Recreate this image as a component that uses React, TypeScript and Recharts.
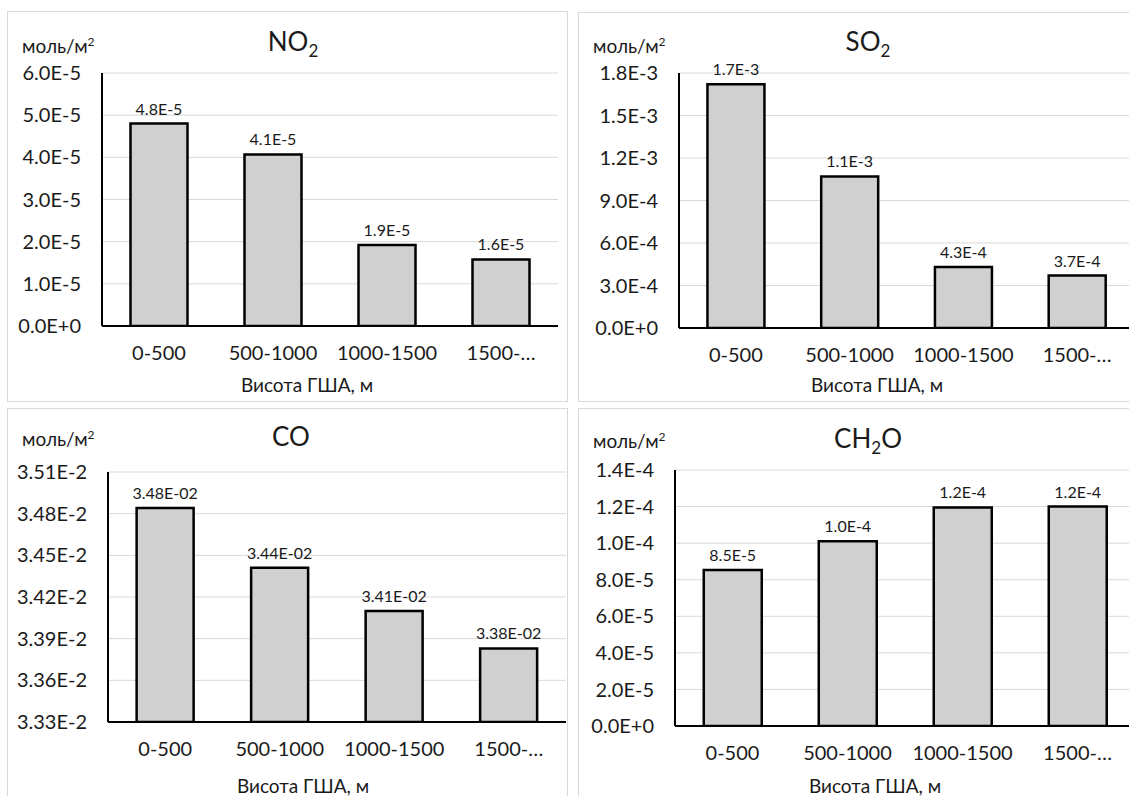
import React from 'react';
import { BarChart, Bar, XAxis, YAxis, CartesianGrid, LabelList } from 'recharts';

const categories = ['0-500', '500-1000', '1000-1500', '1500-…'];

const no2Values = [4.8e-5, 4.07e-5, 1.92e-5, 1.58e-5];
const so2Values = [1.72e-3, 1.07e-3, 4.3e-4, 3.7e-4];
const coValues = [3.484e-2, 3.441e-2, 3.41e-2, 3.383e-2];
const ch2oValues = [8.53e-5, 1.01e-4, 1.195e-4, 1.2e-4];

const no2Ticks = [0, 1e-5, 2e-5, 3e-5, 4e-5, 5e-5, 6e-5];
const so2Ticks = [0, 3e-4, 6e-4, 9e-4, 1.2e-3, 1.5e-3, 1.8e-3];
const coTicks = [0.0333, 0.0336, 0.0339, 0.0342, 0.0345, 0.0348, 0.0351];
const ch2oTicks = [0, 2e-5, 4e-5, 6e-5, 8e-5, 1e-4, 1.2e-4, 1.4e-4];

const FONT = 'Lato, "Open Sans", sans-serif';
const TEXT = '#1a1a1a';

const exp1 = (v: number) => Number(v).toExponential(1).toUpperCase();
const exp2 = (v: number) => Number(v).toExponential(2).toUpperCase();
// Excel style label: 3.48E-02
const exp2Pad = (v: number) => {
  const [m, e] = Number(v).toExponential(2).split('e');
  const sign = e[0];
  const digits = e.slice(1).padStart(2, '0');
  return `${m}E${sign}${digits}`;
};

const toRows = (values: number[]) => categories.map((name, i) => ({ name, value: values[i] }));

interface PanelProps {
  left: number;
  top: number;
  width: number;
  height: number;
  margin: { top: number; right: number; bottom: number; left: number };
  yWidth: number;
  values: number[];
  ticks: number[];
  tickFmt: (v: number) => string;
  labelFmt: (v: number) => string;
  title: React.ReactNode;
  titleX: number;
  titleY: number;
  unitY: number;
  xTitleX: number;
  xTitleY: number;
}

const Panel: React.FC<PanelProps> = (p) => {
  const data = toRows(p.values);
  return (
    <div
      style={{
        position: 'absolute',
        left: p.left,
        top: p.top,
        width: p.width,
        height: p.height,
        border: '1px solid #d9d9d9',
        boxSizing: 'border-box',
        background: '#fff',
        fontFamily: FONT,
        color: TEXT,
      }}
    >
      <div style={{ position: 'absolute', left: p.titleX - 100, top: p.titleY - 17, width: 200, textAlign: 'center', fontSize: 26, lineHeight: '34px' }}>
        {p.title}
      </div>
      <div style={{ position: 'absolute', left: 14, top: p.unitY - 12, fontSize: 19, lineHeight: '24px' }}>
        моль/м<sup style={{ fontSize: 12, verticalAlign: 'top', lineHeight: '16px' }}>2</sup>
      </div>
      <div style={{ position: 'absolute', left: p.xTitleX - 120, top: p.xTitleY - 13, width: 240, textAlign: 'center', fontSize: 19, lineHeight: '26px' }}>
        Висота ГША, м
      </div>
      <BarChart width={p.width - 2} height={p.height - 2} data={data} margin={p.margin} barCategoryGap="25%">
        <CartesianGrid vertical={false} stroke="#d9d9d9" strokeWidth={1} />
        <XAxis
          dataKey="name"
          height={40}
          axisLine={{ stroke: '#000', strokeWidth: 2 }}
          tickLine={false}
          tickSize={0}
          tickMargin={20}
          interval={0}
          tick={{ fill: TEXT, fontSize: 20, fontFamily: FONT }}
        />
        <YAxis
          width={p.yWidth}
          domain={[p.ticks[0], p.ticks[p.ticks.length - 1]]}
          ticks={p.ticks}
          allowDataOverflow
          axisLine={{ stroke: '#000', strokeWidth: 2 }}
          tickLine={false}
          tickSize={0}
          tickMargin={21}
          tickFormatter={p.tickFmt}
          tick={{ fill: TEXT, fontSize: 20, fontFamily: FONT }}
        />
        <Bar dataKey="value" fill="#d0d0d0" stroke="#000" strokeWidth={2.5} isAnimationActive={false}>
          <LabelList
            dataKey="value"
            position="top"
            offset={9}
            formatter={(v: any) => p.labelFmt(Number(v))}
            style={{ fill: TEXT, fontSize: 16, fontFamily: FONT }}
          />
        </Bar>
      </BarChart>
    </div>
  );
};

export default function App() {
  return (
    <div style={{ position: 'absolute', left: 0, top: 0, width: 1129, height: 796, overflow: 'hidden', background: '#fff' }}>
      <Panel
        left={7} top={11} width={561} height={391}
        margin={{ top: 61, right: 9, bottom: 35, left: 0 }}
        yWidth={94}
        values={no2Values} ticks={no2Ticks} tickFmt={exp1} labelFmt={exp1}
        title={<>NO<sub style={{ fontSize: 17, verticalAlign: '-6px' }}>2</sub></>}
        titleX={285} titleY={29} unitY={34} xTitleX={299} xTitleY={373}
      />
      <Panel
        left={578} top={12} width={560} height={390}
        margin={{ top: 60, right: 3, bottom: 33, left: 0 }}
        yWidth={100}
        values={so2Values} ticks={so2Ticks} tickFmt={exp1} labelFmt={exp1}
        title={<>SO<sub style={{ fontSize: 17, verticalAlign: '-6px' }}>2</sub></>}
        titleX={289} titleY={28} unitY={33} xTitleX={298} xTitleY={372}
      />
      <Panel
        left={7} top={408} width={561} height={400}
        margin={{ top: 63, right: 1, bottom: 45, left: 0 }}
        yWidth={100}
        values={coValues} ticks={coTicks} tickFmt={exp2} labelFmt={exp2Pad}
        title={<>CO</>}
        titleX={283} titleY={27} unitY={30} xTitleX={295} xTitleY={377}
      />
      <Panel
        left={578} top={408} width={560} height={400}
        margin={{ top: 61, right: 2, bottom: 41, left: 0 }}
        yWidth={96}
        values={ch2oValues} ticks={ch2oTicks} tickFmt={exp1} labelFmt={exp1}
        title={<>CH<sub style={{ fontSize: 17, verticalAlign: '-6px' }}>2</sub>O</>}
        titleX={289} titleY={29} unitY={32} xTitleX={296} xTitleY={377}
      />
    </div>
  );
}
